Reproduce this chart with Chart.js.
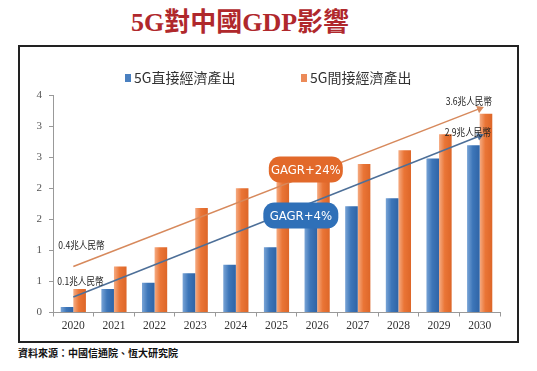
<!DOCTYPE html>
<html>
<head>
<meta charset="utf-8">
<script src="https://cdn.jsdelivr.net/npm/chart.js@4"></script>
<style>
  body { margin: 0; background: #fff; width: 537px; height: 371px; position: relative; overflow: hidden; font-family: "Noto Sans CJK TC", sans-serif; }
  .title { position: absolute; left: 131px; top: 6px; font: bold 26px "Liberation Serif", "Noto Sans CJK TC", serif; color: #b0282c; line-height: 34px; white-space: nowrap; }
  .box { position: absolute; left: 18px; top: 45px; width: 497px; height: 294px; border: 2px solid #222; }
  .legend-item { position: absolute; top: 68px; font: 14px "Noto Sans CJK TC", sans-serif; color: #333; line-height: 18px; white-space: nowrap; }
  .legend-item i { display: inline-block; width: 6px; height: 8px; margin-right: 3px; vertical-align: 1px; }
  .source { position: absolute; left: 18px; top: 345px; font: bold 10px "Noto Sans CJK TC", sans-serif; color: #111; white-space: nowrap; }
</style>
</head>
<body>
<div class="title">5G對中國GDP影響</div>
<div class="box"><canvas id="gdpChart" width="497" height="294"></canvas></div>
<div class="legend-item" style="left:125px"><i style="background:#4a80c0"></i>5G直接經濟產出</div>
<div class="legend-item" style="left:301px"><i style="background:#ec8a58"></i>5G間接經濟產出</div>
<div class="source">資料來源：中國信通院、恆大研究院</div>
<script>
const years = ["2020", "2021", "2022", "2023", "2024", "2025", "2026", "2027", "2028", "2029", "2030"];
const directOutput = [0.09, 0.38, 0.48, 0.63, 0.77, 1.05, 1.45, 1.71, 1.84, 2.48, 2.69];
const indirectOutput = [0.38, 0.74, 1.05, 1.68, 2.0, 2.2, 2.3, 2.39, 2.61, 2.87, 3.2];
// trend arrows, only start and end points
const directTrend = [0.25, null, null, null, null, null, null, null, null, null, 2.84];
const indirectTrend = [0.74, null, null, null, null, null, null, null, null, null, 3.28];
const trendNotes = ["0.1兆人民幣", "2.9兆人民幣", "0.4兆人民幣", "3.6兆人民幣"];
const growthNotes = ["GAGR+4%", "GAGR+24%"];

const catPct = 0.62;
const arrowRadius = years.map((y, i) => (i === years.length - 1 ? 4.5 : 0));

// glossy bar fill, lighter on the left side
function barFill(stops, side) {
  return (c) => {
    const x = c.chart.scales.x;
    if (!x || !c.chart.chartArea) return stops[1];
    const w = (x.width / years.length) * catPct / 2;
    const cx = x.getPixelForValue(c.dataIndex) + side * w / 2;
    const g = c.chart.ctx.createLinearGradient(cx - w / 2, 0, cx + w / 2, 0);
    g.addColorStop(0, stops[0]);
    g.addColorStop(0.45, stops[1]);
    g.addColorStop(1, stops[2]);
    return g;
  };
}

// text labels and GAGR bubbles
const notes = {
  id: "notes",
  afterDatasetsDraw(chart) {
    const { ctx, scales: { x, y } } = chart;
    const x0 = x.getPixelForValue(0);
    const x1 = x.getPixelForValue(years.length - 1);
    ctx.save();
    ctx.fillStyle = "#222";
    ctx.textBaseline = "middle";
    ctx.font = '10px "Noto Sans CJK TC", sans-serif';
    const put = (txt, px, py) => {
      ctx.save();
      ctx.translate(px, py);
      ctx.scale(0.86, 1);
      ctx.fillText(txt, 0, 0);
      ctx.restore();
    };
    put(trendNotes[0], x0 - 16, y.getPixelForValue(directTrend[0]) - 16);
    put(trendNotes[1], x1 - 35, y.getPixelForValue(directTrend[10]) - 4);
    put(trendNotes[2], x0 - 15, y.getPixelForValue(indirectTrend[0]) - 21);
    put(trendNotes[3], x1 - 34, y.getPixelForValue(indirectTrend[10]) - 7);

    const mid = (x.getPixelForValue(5) + x.getPixelForValue(6)) / 2;
    const bubble = (txt, cx, cy, w, h, color) => {
      ctx.fillStyle = color;
      ctx.beginPath();
      ctx.roundRect(cx - w / 2, cy - h / 2, w, h, 11);
      ctx.fill();
      ctx.fillStyle = "#fff";
      ctx.textAlign = "center";
      ctx.font = '13px "Liberation Sans Narrow", "DejaVu Sans Condensed", sans-serif';
      ctx.fillText(txt, cx, cy + 1);
    };
    bubble(growthNotes[1], mid + 9, y.getPixelForValue(2.3), 74, 26, "#e2692a");
    bubble(growthNotes[0], mid + 4, y.getPixelForValue(1.56), 75, 26, "#2f70b8");
    ctx.restore();
  }
};

new Chart(document.getElementById("gdpChart"), {
  type: "bar",
  data: {
    labels: years,
    datasets: [
      {
        label: "5G直接經濟產出",
        data: directOutput,
        backgroundColor: barFill(["#79a4d6", "#3d76b9", "#2f64a6"], -1),
        order: 2,
      },
      {
        label: "5G間接經濟產出",
        data: indirectOutput,
        backgroundColor: barFill(["#f5ab82", "#ea7536", "#dd6628"], 1),
        order: 2,
      },
      {
        type: "line",
        data: directTrend,
        spanGaps: true,
        borderColor: "#4d6f98",
        borderWidth: 1.5,
        pointStyle: "triangle",
        pointRotation: 68,
        pointRadius: arrowRadius,
        pointBackgroundColor: "#4d6f98",
        pointBorderWidth: 0,
        order: 1,
      },
      {
        type: "line",
        data: indirectTrend,
        spanGaps: true,
        borderColor: "#d7895c",
        borderWidth: 1.5,
        pointStyle: "triangle",
        pointRotation: 68,
        pointRadius: arrowRadius,
        pointBackgroundColor: "#d7895c",
        pointBorderWidth: 0,
        order: 1,
      },
    ],
  },
  options: {
    responsive: false,
    animation: false,
    devicePixelRatio: 1,
    categoryPercentage: catPct,
    barPercentage: 1.0,
    layout: { padding: { top: 48, right: 17, left: 0, bottom: 0 } },
    plugins: {
      legend: { display: false },
      tooltip: { enabled: false },
    },
    scales: {
      x: {
        offset: true,
        grid: { drawOnChartArea: false, tickLength: 4, color: "#999" },
        border: { color: "#999" },
        ticks: { color: "#333", padding: 3, font: { family: "Liberation Serif", size: 11.5 } },
        afterFit: (s) => { s.height = 28.5; },
      },
      y: {
        min: 0,
        max: 3.5,
        grid: { drawOnChartArea: false, tickLength: 4, color: "#999" },
        border: { color: "#999" },
        ticks: {
          stepSize: 0.5,
          padding: 7,
          color: "#555",
          font: { family: "Liberation Serif", size: 11 },
          callback: (v) => Math.round(v),
        },
        afterFit: (s) => { s.width = 33; },
      },
    },
  },
  plugins: [notes],
});
</script>
</body>
</html>
